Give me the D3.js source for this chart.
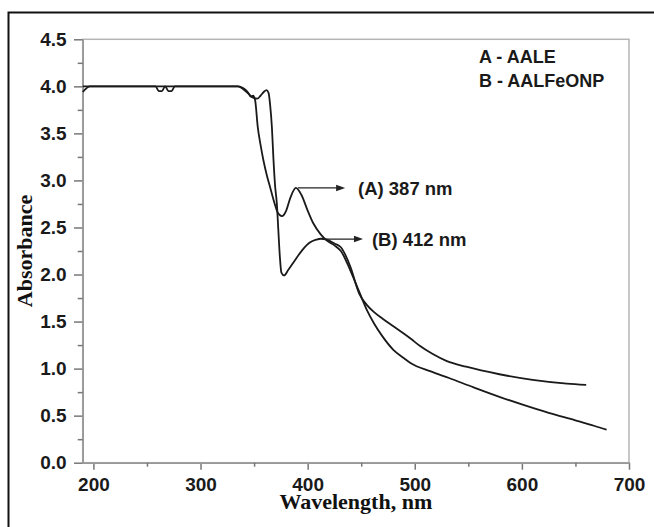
<!DOCTYPE html>
<html lang="en">
<head>
    <meta charset="UTF-8">
    <script src="https://d3js.org/d3.v7.min.js"></script>
    <title>Absorbance</title>
    <style>
        body { margin: 0; background: #fff; }
        .axis text {
            font-family: 'Liberation Sans', Arial, sans-serif;
            font-weight: bold;
            font-size: 19px;
            fill: #1a1a1a;
        }
        text.title {
            font-family: 'Liberation Serif', 'Times New Roman', serif;
            font-weight: bold;
            font-size: 22px;
            fill: #111;
        }
        text.note {
            font-family: 'Liberation Sans', Arial, sans-serif;
            font-weight: bold;
            font-size: 18.5px;
            fill: #1a1a1a;
        }
    </style>
</head>
<body>
<svg height="527" width="654"></svg>
<script>
    const width = 654, height = 527;

    // wavelength (nm), absorbance
    const curveA = [
        [190, 3.94], [197, 4.0], [335, 4.0], [340, 3.98], [344, 3.94], [347, 3.89],
        [349, 3.9], [351, 3.85], [353.4, 3.57], [356, 3.38], [358.6, 3.22], [362, 3.05],
        [364.9, 2.93], [369, 2.76], [372, 2.66], [376, 2.62], [380, 2.68], [384, 2.82],
        [389, 2.92], [394, 2.85], [400, 2.68], [405, 2.55], [412, 2.43], [418, 2.36],
        [425, 2.31], [431, 2.25], [440, 2.04], [448, 1.82], [455, 1.63], [462, 1.48],
        [470, 1.34], [480, 1.2], [490, 1.11], [496, 1.06], [515, 0.97], [532, 0.9],
        [555, 0.8], [579, 0.7], [600, 0.62], [625, 0.53], [650, 0.45], [668, 0.39],
        [679, 0.35]
    ];
    const curveB = [
        [190, 4.0], [258, 4.0], [261, 3.95], [264, 3.95], [267, 4.0], [270, 3.95],
        [273, 3.95], [276, 4.0], [335, 4.0], [340, 3.97], [345, 3.92], [349, 3.88],
        [353, 3.87], [356, 3.9], [359, 3.94], [361.5, 3.96], [363.5, 3.93], [365, 3.8],
        [366.6, 3.57], [368.1, 3.22], [369.7, 2.93], [371.2, 2.76], [372.5, 2.5],
        [374, 2.2], [375.5, 2.02], [378, 1.99], [382, 2.05], [388, 2.15], [395, 2.26],
        [402, 2.34], [408, 2.37], [412, 2.38], [418, 2.37], [425, 2.33], [431, 2.29],
        [440, 2.08], [448, 1.8], [455, 1.68], [462, 1.6], [470, 1.53], [480, 1.45],
        [490, 1.37], [496, 1.32], [505, 1.24], [516, 1.16], [530, 1.08], [548, 1.02],
        [579, 0.94], [610, 0.88], [642, 0.84], [660, 0.826]
    ];

    const xTicks = [200, 300, 400, 500, 600, 700];
    const xMinor = [250, 350, 450, 550, 650];
    const yTicks = [0, 0.5, 1.0, 1.5, 2.0, 2.5, 3.0, 3.5, 4.0, 4.5];
    const yMinor = [0.25, 0.75, 1.25, 1.75, 2.25, 2.75, 3.25, 3.75, 4.25];
    const legendItems = ["A - AALE", "B - AALFeONP"];
    // peak annotations: peak position, arrow tip and label start (nm)
    const peaks = [
        {label: "(A) 387 nm", nm: 389, abs: 2.92, tip: 435, text: 447},
        {label: "(B) 412 nm", nm: 412, abs: 2.377, tip: 451.7, text: 460}
    ];

    const x = d3.scaleLinear().domain([190, 700]).range([82.7, 629]);
    const y = d3.scaleLinear().domain([0, 4.5]).range([462.7, 39.3]);

    const svg = d3.select("svg");

    // outer frame (runs off the right and bottom edges)
    svg.append("rect")
            .attr("x", 8.5).attr("y", 12.5)
            .attr("width", 800).attr("height", 700)
            .attr("fill", "none").attr("stroke", "#111").attr("stroke-width", 2);

    // plot box
    svg.append("rect")
            .attr("x", x(190)).attr("y", y(4.5))
            .attr("width", x(700) - x(190)).attr("height", y(0) - y(4.5))
            .attr("fill", "none").attr("stroke", "#b5b5b5").attr("stroke-width", 1.5);

    svg.append("g").attr("class", "axis")
            .attr("transform", `translate(0,${y(0)})`)
            .call(d3.axisBottom(x).tickValues(xTicks).tickSize(7).tickPadding(8).tickSizeOuter(0));
    svg.append("g").attr("class", "axis")
            .attr("transform", `translate(0,${y(0)})`)
            .call(d3.axisBottom(x).tickValues(xMinor).tickSize(4).tickFormat("").tickSizeOuter(0));

    svg.append("g").attr("class", "axis")
            .attr("transform", `translate(${x(190)},0)`)
            .call(d3.axisLeft(y).tickValues(yTicks).tickSize(8.7).tickPadding(7.3)
                    .tickFormat(d3.format(".1f")).tickSizeOuter(0));
    svg.append("g").attr("class", "axis")
            .attr("transform", `translate(${x(190)},0)`)
            .call(d3.axisLeft(y).tickValues(yMinor).tickSize(5).tickFormat("").tickSizeOuter(0));

    svg.selectAll(".axis .domain").attr("stroke", "#999").attr("stroke-width", 1.5);
    svg.selectAll(".axis .tick line").attr("stroke", "#777").attr("stroke-width", 1.5);

    // titles
    svg.append("text").attr("class", "title")
            .attr("x", (x(190) + x(700)) / 2).attr("y", 509)
            .attr("text-anchor", "middle")
            .text("Wavelength, nm");
    svg.append("text").attr("class", "title")
            .attr("transform", `translate(32,${(y(0) + y(4.5)) / 2}) rotate(-90)`)
            .attr("text-anchor", "middle")
            .text("Absorbance");

    // curves
    const line = d3.line().x(d => x(d[0])).y(d => y(d[1])).curve(d3.curveMonotoneX);
    svg.selectAll("path.curve").data([curveA, curveB]).enter().append("path")
            .attr("class", "curve")
            .attr("d", line)
            .attr("fill", "none")
            .attr("stroke", "#1a1a1a")
            .attr("stroke-width", 1.8)
            .attr("stroke-linejoin", "round");

    // legend
    svg.selectAll("text.legend").data(legendItems).enter().append("text")
            .attr("class", "note legend")
            .attr("x", 479).attr("y", (d, i) => 62.7 + i * 24.3)
            .style("font-size", "18px")
            .text(d => d);

    // peak arrows
    const notes = svg.selectAll("g.peak").data(peaks).enter().append("g").attr("class", "peak");
    notes.append("line")
            .attr("x1", d => x(d.nm) + 2).attr("x2", d => x(d.tip) - 6)
            .attr("y1", d => y(d.abs)).attr("y2", d => y(d.abs))
            .attr("stroke", "#222").attr("stroke-width", 1.2);
    notes.append("path")
            .attr("d", d => {
                const tx = x(d.tip), ty = y(d.abs);
                return `M${tx},${ty} L${tx - 9},${ty - 3.2} L${tx - 9},${ty + 3.2} Z`;
            })
            .attr("fill", "#222");
    notes.append("text").attr("class", "note")
            .attr("x", d => x(d.text)).attr("y", d => y(d.abs) + 7)
            .text(d => d.label);
</script>
</body>
</html>
